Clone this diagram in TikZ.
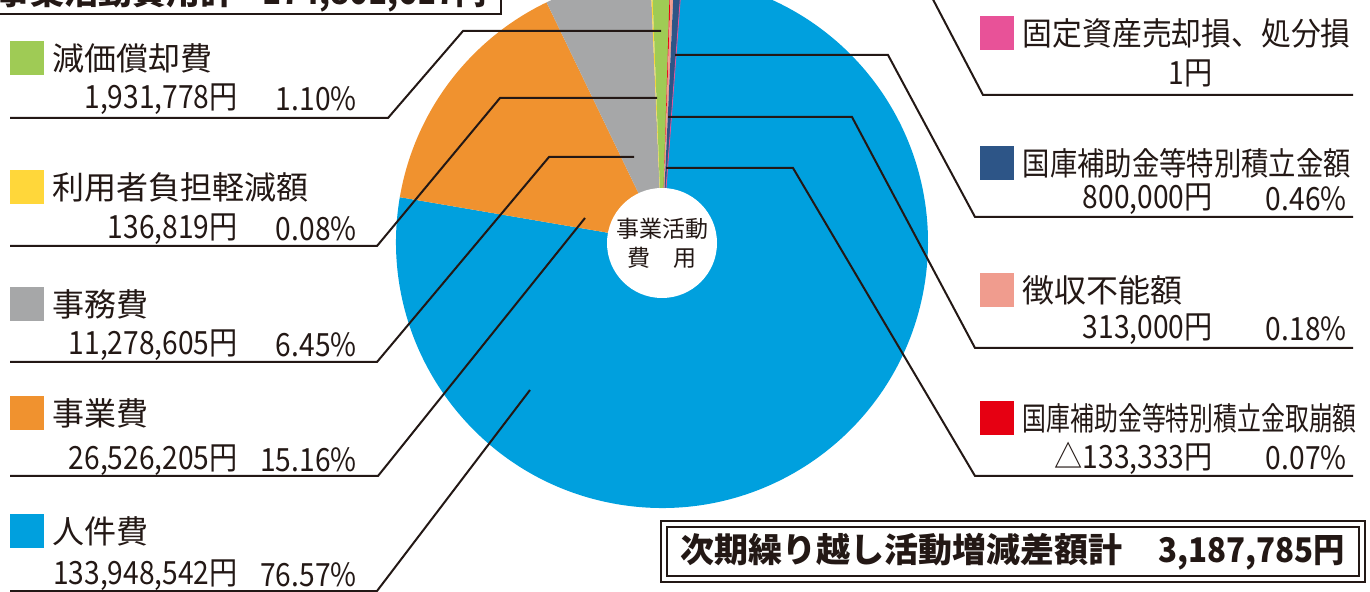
\documentclass[tikz,border=0pt]{standalone}
\usepackage{fontspec}
\setmainfont{Noto Sans CJK JP}
\usepackage{graphicx}
\usetikzlibrary{positioning}
\definecolor{ink}{HTML}{231815}
\definecolor{jinken}{HTML}{00A0DE}
\definecolor{jigyou}{HTML}{F0922F}
\definecolor{jimu}{HTML}{A6A7A8}
\definecolor{genka}{HTML}{9FCB55}
\definecolor{riyou}{HTML}{FFD73A}
\definecolor{kotei}{HTML}{E85298}
\definecolor{kokko}{HTML}{2D5587}
\definecolor{choushu}{HTML}{F09C8E}
\definecolor{tori}{HTML}{E60012}
\newcommand\slim[1]{\scalebox{.88}[1]{#1}}
\newcommand\bslim[1]{\scalebox{.92}[1]{#1}}
\newcommand\fitw[2]{\resizebox{#1}{\height}{#2}}
\tikzset{
  swatch/.style={minimum size=17pt, inner sep=0pt},
  legtext/.style={inner sep=0pt, text=ink, font=\fontsize{16}{19}\selectfont},
  amount/.style={anchor=east, inner sep=0pt, text=ink, font=\fontsize{16}{19}\selectfont},
  leader/.style={draw=ink, line width=1pt},
  total/.style={inner sep=0pt, text=ink, font=\bfseries\fontsize{17}{20}\selectfont}
}

\begin{document}
\begin{tikzpicture}[x=0.5pt,y=-0.5pt]
\useasboundingbox (0,0) rectangle (1370,592);
\clip (0,0) rectangle (1370,592);

\begin{scope}[shift={(662,242)}]
  \foreach \a/\b/\c in {170.3/445.7/jinken, 115.72/170.3/jigyou, 92.5/115.72/jimu,
      92.21/92.5/riyou, 88.25/92.21/genka, 88.0/88.25/tori, 87.36/88.0/choushu, 85.7/87.36/kokko}
    \fill[\c] (0,0) -- (\a:133pt) arc[start angle=\a, end angle=\b, radius=133pt] -- cycle;
  \draw[kotei, line width=.4pt] (0,0) -- (85.7:133pt);
\end{scope}
\node[circle, fill=white, minimum size=55pt, inner sep=0pt, align=center, text=ink,
  font=\fontsize{11.5}{14.5}\selectfont] (centre) at (662,243) {事業活動\\費　用};

\node[total, anchor=base west] (hiyou) at (-4,5) {事業活動費用計\hspace{14pt}\bslim{174,801,617円}};
\draw[ink, line width=1pt] (-20,-60) rectangle (501,14.5);
\node[total, draw=ink, double, double distance=2pt, line width=1pt,
  minimum width=348.75pt, minimum height=27.5pt] (zougen) at (1012.75,551.5)
  {次期繰り越し活動増減差額計\hspace{18pt}\bslim{3,187,785円}};

\node[swatch, fill=genka] (ge-sw) at (27,58) {};
\node[legtext, right=4pt of ge-sw] (ge-lab) {減価償却費};
\node[amount] (ge-amt) at (238,99) {\slim{1,931,778円}};
\node[amount] (ge-pct) at (357,99) {\slim{1.10\%}};
\node[swatch, fill=riyou] (ri-sw) at (27,187) {};
\node[legtext, right=4pt of ri-sw] (ri-lab) {利用者負担軽減額};
\node[amount] (ri-amt) at (238,229) {\slim{136,819円}};
\node[amount] (ri-pct) at (357,229) {\slim{0.08\%}};
\node[swatch, fill=jimu] (jm-sw) at (27,304) {};
\node[legtext, right=4pt of jm-sw] (jm-lab) {事務費};
\node[amount] (jm-amt) at (238,345) {\slim{11,278,605円}};
\node[amount] (jm-pct) at (357,345) {\slim{6.45\%}};
\node[swatch, fill=jigyou] (jg-sw) at (27,413) {};
\node[legtext, right=4pt of jg-sw] (jg-lab) {事業費};
\node[amount] (jg-amt) at (238,460) {\slim{26,526,205円}};
\node[amount] (jg-pct) at (357,460) {\slim{15.16\%}};
\node[swatch, fill=jinken] (jk-sw) at (27,531.5) {};
\node[legtext, right=4pt of jk-sw] (jk-lab) {人件費};
\node[amount] (jk-amt) at (238,575) {\slim{133,948,542円}};
\node[amount] (jk-pct) at (357,575) {\slim{76.57\%}};

\node[swatch, fill=kotei] (kt-sw) at (997,33) {};
\node[legtext, right=4pt of kt-sw] (kt-lab) {\fitw{164pt}{固定資産売却損、処分損}};
\node[amount] (kt-amt) at (1213,73) {\slim{1円}};
\node[swatch, fill=kokko] (kk-sw) at (997,163.5) {};
\node[legtext, right=4pt of kk-sw] (kk-lab) {\fitw{164pt}{国庫補助金等特別積立金額}};
\node[amount] (kk-amt) at (1213,199) {\slim{800,000円}};
\node[amount] (kk-pct) at (1347,199) {\slim{0.46\%}};
\node[swatch, fill=choushu] (ch-sw) at (997,290) {};
\node[legtext, right=4pt of ch-sw] (ch-lab) {徴収不能額};
\node[amount] (ch-amt) at (1213,329) {\slim{313,000円}};
\node[amount] (ch-pct) at (1347,329) {\slim{0.18\%}};
\node[swatch, fill=tori] (tr-sw) at (997,418.5) {};
\node[legtext, right=4pt of tr-sw] (tr-lab) {\fitw{167pt}{国庫補助金等特別積立金取崩額}};
\node[amount] (tr-amt) at (1213,458) {\slim{△133,333円}};
\node[amount] (tr-pct) at (1347,458) {\slim{0.07\%}};

\coordinate (ge-p) at (661,31);   \coordinate (ge-e) at (10,118);
\coordinate (ri-p) at (657,98);   \coordinate (ri-e) at (10,246);
\coordinate (jm-p) at (634,157);  \coordinate (jm-e) at (10,362);
\coordinate (jg-p) at (585,218);  \coordinate (jg-e) at (10,476);
\coordinate (jk-p) at (530,390);  \coordinate (jk-e) at (10,591);
\coordinate (kt-p) at (680,-12);  \coordinate (kt-e) at (1353,95);
\coordinate (kk-p) at (675,55);   \coordinate (kk-e) at (1353,217);
\coordinate (ch-p) at (668,117);  \coordinate (ch-e) at (1353,348);
\coordinate (tr-p) at (666,168);  \coordinate (tr-e) at (1353,476);

\draw[leader] (ge-p) -- (463,31) -- (388,118) -- (ge-e);
\draw[leader] (ri-p) -- (500,98) -- (377,246) -- (ri-e);
\draw[leader] (jm-p) -- (549,157) -- (377,362) -- (jm-e);
\draw[leader] (jg-p) -- (378,476) -- (jg-e);
\draw[leader] (jk-p) -- (377,591) -- (jk-e);
\draw[leader] (kt-p) -- (927,-12) -- (983,95) -- (kt-e);
\draw[leader] (kk-p) -- (888,55) -- (975,217) -- (kk-e);
\draw[leader] (ch-p) -- (852,117) -- (975,348) -- (ch-e);
\draw[leader] (tr-p) -- (793,168) -- (975,476) -- (tr-e);
\end{tikzpicture}
\end{document}
